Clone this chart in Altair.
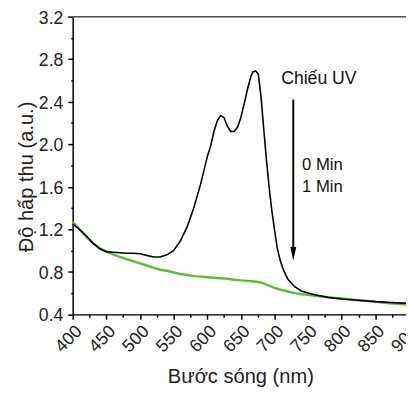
import altair as alt
import pandas as pd

# 0 Min (black)
wl0 = [400, 410, 420, 430, 440, 450, 460, 470, 480, 490, 500, 510, 520, 530, 540, 550, 560, 570,
       580, 590, 600, 605, 610, 615, 620, 625, 630, 635, 640, 645, 650, 655, 660, 665, 668, 672,
       676, 680, 684, 688, 692, 696, 700, 704, 708, 712, 716, 720, 730, 740, 750, 760, 780, 800,
       820, 850, 880, 900]
ab0 = [1.25, 1.20, 1.14, 1.07, 1.02, 0.99, 0.985, 0.98, 0.975, 0.975, 0.97, 0.955, 0.94, 0.94,
       0.96, 1.00, 1.09, 1.22, 1.40, 1.62, 1.88, 1.98, 2.12, 2.22, 2.27, 2.25, 2.17, 2.12, 2.12,
       2.16, 2.25, 2.38, 2.52, 2.64, 2.68, 2.69, 2.66, 2.45, 2.15, 1.86, 1.60, 1.38, 1.20, 1.03,
       0.92, 0.84, 0.78, 0.73, 0.66, 0.62, 0.60, 0.585, 0.56, 0.545, 0.535, 0.52, 0.51, 0.505]

# 1 Min (green)
wl1 = [400, 410, 420, 430, 440, 450, 460, 470, 480, 490, 500, 510, 520, 530, 540, 550, 560, 570,
       580, 590, 600, 610, 620, 630, 640, 650, 660, 670, 680, 690, 700, 710, 720, 730, 740, 750,
       760, 780, 800, 820, 850, 870, 885, 900]
ab1 = [1.27, 1.20, 1.13, 1.07, 1.02, 0.99, 0.965, 0.94, 0.92, 0.90, 0.88, 0.86, 0.84, 0.82, 0.81,
       0.795, 0.78, 0.77, 0.76, 0.755, 0.75, 0.745, 0.74, 0.735, 0.725, 0.72, 0.715, 0.71, 0.70,
       0.675, 0.65, 0.63, 0.615, 0.60, 0.59, 0.585, 0.575, 0.56, 0.55, 0.535, 0.52, 0.505, 0.50,
       0.485]

x_ticks = list(range(400, 901, 25))
y_ticks = [round(0.4 + 0.2 * i, 1) for i in range(15)]

ann_text = ["Chiếu UV", "0 Min", "1 Min"]
ann_x = [710, 741, 741]
ann_y = [2.566, 1.756, 1.555]
ann_size = [18, 17, 17]

arrow_x = [728]
arrow_top = [2.42]
arrow_head = [0.97]

FONT = "Liberation Sans"

df0 = pd.DataFrame({"wl": wl0, "ab": ab0})
df1 = pd.DataFrame({"wl": wl1, "ab": ab1})
dfa = pd.DataFrame({"t": ann_text, "x": ann_x, "y": ann_y, "s": ann_size})
dfr = pd.DataFrame({"x": arrow_x, "y": arrow_top, "y2": arrow_head})

xscale = alt.Scale(domain=[400, 900], nice=False, zero=False)
yscale = alt.Scale(domain=[0.4, 3.2], nice=False, zero=False)

xaxis = alt.Axis(
    values=x_ticks,
    labelExpr="datum.value % 50 == 0 ? datum.label : ''",
    labelAngle=-45, labelFontSize=18, labelFont=FONT, labelColor="#222",
    tickSize={"condition": {"test": "datum.value % 50 != 0", "value": 3}, "value": 5},
    tickColor="black", tickWidth=1.5, domainColor="black", domainWidth=1.5,
    grid=False, title="Bước sóng (nm)", titleFont=FONT, titleFontSize=20.5,
    titleFontWeight="normal", titleColor="#222",
    titleX=171, titleY=70, titleBaseline="alphabetic", titleAlign="center",
    labelPadding=3, labelOverlap=False, labelFlush=False,
)
yaxis = alt.Axis(
    values=y_ticks,
    labelExpr="round(datum.value*10) % 4 == 0 ? format(datum.value, '.1f') : ''",
    labelFontSize=18, labelFont=FONT, labelColor="#222", labelOffset=1.5,
    tickSize={"condition": {"test": "round(datum.value*10) % 4 != 0", "value": 2}, "value": 5},
    tickColor="black", tickWidth=1.5, domainColor="black", domainWidth=1.5,
    grid=False, title="Độ hấp thu (a.u.)", titleFont=FONT, titleFontSize=20.5,
    titleFontWeight="normal", titleColor="#222",
    titleX=-41, titleY=163, titleBaseline="alphabetic", titleAlign="center", titleAngle=270,
    labelPadding=5, labelOverlap=False, labelFlush=False,
)


def X(field):
    return alt.X(field, scale=xscale, axis=xaxis)


def Y(field):
    return alt.Y(field, scale=yscale, axis=yaxis)


green = alt.Chart(df1).mark_line(color="#5cbd3e", strokeWidth=2.5, clip=False).encode(
    x=X("wl:Q"), y=Y("ab:Q"), order="wl:Q")
black = alt.Chart(df0).mark_line(color="black", strokeWidth=1.6, clip=False).encode(
    x=X("wl:Q"), y=Y("ab:Q"), order="wl:Q")

top = alt.Chart(pd.DataFrame({"a": [0]})).mark_rule(color="#555", strokeWidth=1.5).encode(
    x=alt.value(-5), x2=alt.value(345), y=alt.value(0))

texts = alt.Chart(dfa).mark_text(align="left", baseline="alphabetic", font=FONT, color="#111").encode(
    x=X("x:Q"), y=Y("y:Q"), text="t:N",
    size=alt.Size("s:Q", scale=None, legend=None))

arrow_line = alt.Chart(dfr).mark_rule(color="black", strokeWidth=2).encode(
    x=X("x:Q"), y=Y("y:Q"), y2="y2:Q")
arrow_tip = alt.Chart(dfr).mark_point(
    shape="M-0.43,-1L0.43,-1L0,1Z", size=196, filled=True, color="black", opacity=1).encode(
    x=X("x:Q"), y=Y("y2:Q"))

# the reference is cropped on the right: the plot runs a few pixels past the picture's edge
chart = alt.layer(green, black, top, texts, arrow_line, arrow_tip).properties(
    width=343, height=303.7,
    padding={"left": 66, "top": 5, "right": -3, "bottom": 74},
    autosize=alt.AutoSizeParams(type="none"),
).configure_view(stroke=None).configure(background="white")

chart.save("out.html", embed_options={"renderer": "svg", "actions": False})
